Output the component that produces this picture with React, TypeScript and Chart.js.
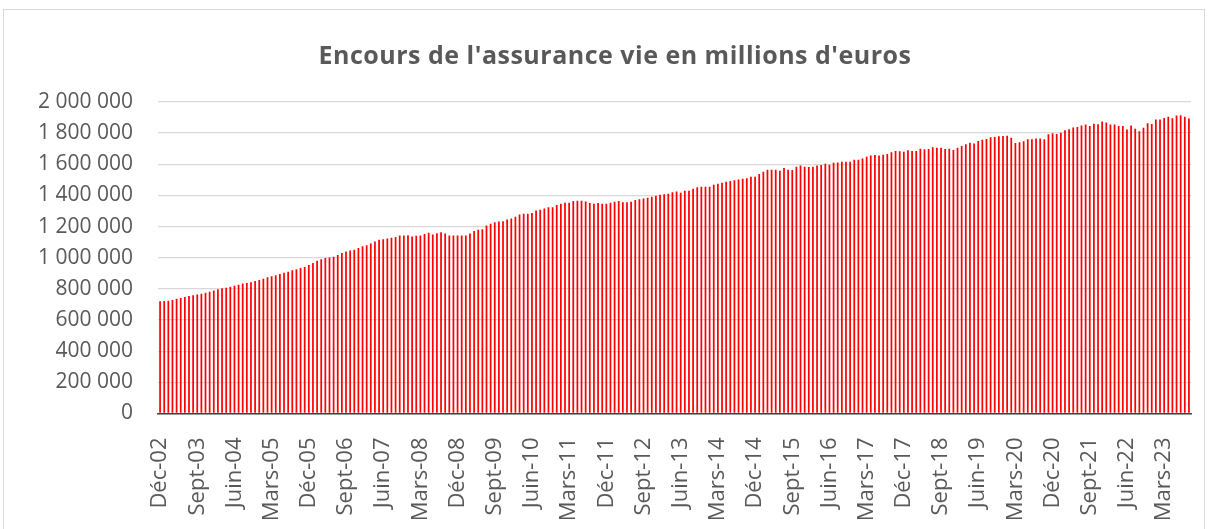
import React, { useEffect, useRef } from 'react';
import { Chart, registerables } from 'chart.js';

Chart.register(...registerables);

// French month abbreviations used for category labels
const MOIS = ['Janv', 'Févr', 'Mars', 'Avr', 'Mai', 'Juin', 'Juil', 'Août', 'Sept', 'Oct', 'Nov', 'Déc'];

// Encours (millions d'euros), monthly from Déc-02 to Sept-23
const encours2002_2006 = [
  720000, 722000, 724000, 728000, 736000, 741000, 748000, 754000, 760000, 764000,
  769000, 776000, 782000, 790000, 798000, 804000, 808000, 814000, 820000, 827000,
  834000, 838000, 843000, 850000, 857000, 865000, 874000, 881000, 888000, 895000,
  903000, 910000, 920000, 926000, 934000, 941000, 954000, 967000, 980000, 990000,
  998000, 1002000,
];
const encours2006_2009 = [
  1007000, 1018000, 1031000, 1040000, 1046000, 1052000, 1063000, 1074000, 1080000, 1091000,
  1104000, 1115000, 1119000, 1123000, 1128000, 1134000, 1143000, 1143000, 1145000, 1136000,
  1141000, 1143000, 1153000, 1160000, 1149000, 1158000, 1164000, 1156000, 1143000, 1143000,
  1143000, 1143000, 1143000, 1156000, 1171000, 1179000, 1183000, 1207000, 1218000, 1228000,
  1233000,
];
const encours2009_2013 = [
  1235000, 1246000, 1252000, 1263000, 1278000, 1282000, 1282000, 1288000, 1304000, 1308000,
  1316000, 1325000, 1325000, 1338000, 1346000, 1353000, 1353000, 1364000, 1366000, 1366000,
  1361000, 1351000, 1346000, 1351000, 1346000, 1346000, 1353000, 1359000, 1364000, 1357000,
  1357000, 1359000, 1370000, 1376000, 1381000, 1385000, 1391000, 1398000, 1404000, 1407000,
];
const encours2013_2016 = [
  1411000, 1421000, 1426000, 1417000, 1430000, 1430000, 1443000, 1452000, 1456000, 1456000,
  1456000, 1469000, 1475000, 1482000, 1488000, 1492000, 1497000, 1503000, 1507000, 1510000,
  1520000, 1520000, 1537000, 1552000, 1565000, 1565000, 1565000, 1559000, 1576000, 1565000,
  1563000, 1585000, 1593000, 1585000, 1582000, 1585000, 1593000, 1595000, 1604000, 1597000,
  1610000, 1612000,
];
const encours2016_2019 = [
  1617000, 1617000, 1617000, 1630000, 1630000, 1638000, 1649000, 1657000, 1660000, 1657000,
  1662000, 1666000, 1677000, 1685000, 1683000, 1681000, 1690000, 1685000, 1685000, 1700000,
  1696000, 1698000, 1709000, 1707000, 1707000, 1698000, 1700000, 1692000, 1707000, 1718000,
  1728000, 1739000, 1733000, 1750000, 1758000, 1763000, 1773000, 1776000, 1780000,
];
const encours2019_2023 = [
  1782000, 1784000, 1771000, 1737000, 1741000, 1748000, 1761000, 1761000, 1765000, 1765000,
  1761000, 1793000, 1799000, 1795000, 1803000, 1818000, 1825000, 1836000, 1840000, 1849000,
  1855000, 1846000, 1861000, 1857000, 1874000, 1868000, 1855000, 1855000, 1846000, 1846000,
  1823000, 1849000, 1829000, 1812000, 1834000, 1864000, 1859000, 1887000, 1887000, 1898000,
  1906000, 1896000, 1913000, 1915000, 1906000, 1894000,
];

const encours = [
  ...encours2002_2006,
  ...encours2006_2009,
  ...encours2009_2013,
  ...encours2013_2016,
  ...encours2016_2019,
  ...encours2019_2023,
];

// Category labels (month-year), starting Déc-02
const categories: string[] = encours.map((_, i) => {
  const k = 11 + i;
  const m = k % 12;
  const y = 2002 + Math.floor(k / 12);
  return `${MOIS[m]}-${String(y % 100).padStart(2, '0')}`;
});

// Tick labels shown on the x axis
const xTickLabels = [
  'Déc-02', 'Sept-03', 'Juin-04', 'Mars-05', 'Déc-05', 'Sept-06', 'Juin-07', 'Mars-08',
  'Déc-08', 'Sept-09', 'Juin-10', 'Mars-11', 'Déc-11', 'Sept-12', 'Juin-13', 'Mars-14',
  'Déc-14', 'Sept-15', 'Juin-16', 'Mars-17', 'Déc-17', 'Sept-18', 'Juin-19', 'Mars-20',
  'Déc-20', 'Sept-21', 'Juin-22', 'Mars-23',
];

const Y_MIN = 0;
const Y_MAX = 2000000;
const Y_STEP = 200000;

const TITLE = "Encours de l'assurance vie en millions d'euros";
const FONT = '"Open Sans", "Noto Sans", sans-serif';
const TEXT_COLOR = '#595959';

const fmt = (v: number) => String(Math.round(v)).replace(/\B(?=(\d{3})+(?!\d))/g, ' ');

export default function App() {
  const canvasRef = useRef<HTMLCanvasElement | null>(null);

  useEffect(() => {
    const canvas = canvasRef.current;
    if (!canvas) return;
    const shown = new Set(xTickLabels);
    const chart = new Chart(canvas, {
      type: 'bar',
      data: {
        labels: categories,
        datasets: [
          {
            label: 'Encours',
            data: encours,
            backgroundColor: '#ff0000',
            borderWidth: 0,
            barPercentage: 0.42,
            categoryPercentage: 1,
          },
        ],
      },
      options: {
        animation: false,
        responsive: false,
        maintainAspectRatio: false,
        layout: { padding: { left: 0, right: 17, top: 102, bottom: 0 } },
        plugins: {
          legend: { display: false },
          title: { display: false },
          tooltip: { enabled: false },
        },
        scales: {
          x: {
            grid: { display: false, drawTicks: false },
            border: { display: true, color: '#404040', width: 1.5 },
            ticks: {
              autoSkip: false,
              maxRotation: 90,
              minRotation: 90,
              padding: 24,
              color: TEXT_COLOR,
              font: { family: FONT, size: 22 },
              callback: (_v: any, i: number) => (shown.has(categories[i]) ? categories[i] : ''),
            },
            afterFit: (s: any) => {
              s.height = 529 - 413.5;
              s.paddingLeft = 0;
              s.paddingRight = 0;
            },
          },
          y: {
            min: Y_MIN,
            max: Y_MAX,
            ticks: {
              stepSize: Y_STEP,
              padding: 25,
              color: TEXT_COLOR,
              font: { family: FONT, size: 21 },
              callback: (v: any) => fmt(Number(v)),
            },
            grid: { color: '#d9d9d9', lineWidth: 1.3, drawTicks: false },
            border: { display: false },
            afterFit: (s: any) => {
              s.width = 158;
            },
          },
        },
      },
    });
    return () => chart.destroy();
  }, []);

  return (
    <div
      style={{
        position: 'fixed',
        left: 0,
        top: 0,
        width: 1208,
        height: 529,
        background: '#ffffff',
        overflow: 'hidden',
      }}
    >
      <div
        style={{
          position: 'absolute',
          left: 3,
          top: 9,
          width: 1202,
          height: 560,
          border: '1px solid #d9d9d9',
          boxSizing: 'border-box',
        }}
      />
      <canvas
        ref={canvasRef}
        width={1208}
        height={529}
        style={{ position: 'absolute', left: 0, top: 0, display: 'block' }}
      />
      <div
        style={{
          position: 'absolute',
          left: 0,
          top: 37,
          width: 1230,
          textAlign: 'center',
          fontFamily: FONT,
          fontWeight: 700,
          fontSize: 25,
          letterSpacing: 0.5,
          lineHeight: '34px',
          color: TEXT_COLOR,
          whiteSpace: 'nowrap',
        }}
      >
        {TITLE}
      </div>
    </div>
  );
}
